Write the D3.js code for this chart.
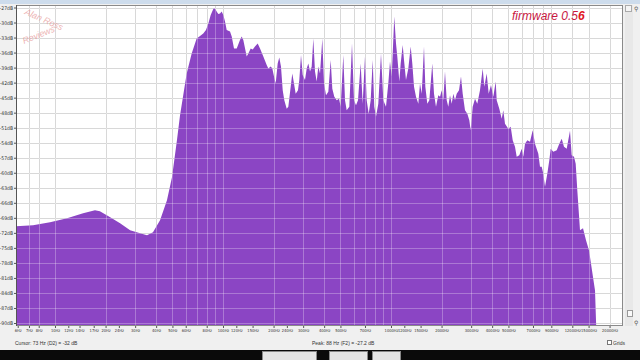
<!DOCTYPE html>
<html><head><meta charset="utf-8">
<script src="https://cdn.jsdelivr.net/npm/d3@7/dist/d3.min.js"></script>
<style>
body{margin:0;background:#f0f0f0;}
svg{display:block;font-family:"Liberation Sans",Arial,sans-serif;}
.tk text{font-family:"Liberation Sans Narrow","DejaVu Sans Condensed",sans-serif;}
</style>
</head><body>
<svg id="c" width="640" height="360"></svg>
<script>
// ---- data ----
const freqHz = [5.86, 7.40, 9.34, 11.8, 14.7, 17.3, 18.5, 21.3, 24.4, 28.0, 32.1, 35.3, 38.3, 42.2, 46.4, 49.7, 53.2, 55.5,
  60.8, 65.1, 69.7, 73.0, 76.3, 79.2, 81.8, 84.5, 87.8, 89.6, 91.7, 93.8, 96.0, 98.2, 100.4, 102.8, 105.2,
  110.1, 112.7, 116.3, 120.7, 126.2, 129.2, 132.1, 138.4, 141.5, 146.2, 150.3, 155.0, 160.9, 166.1, 173.8, 182.0, 186.1, 192.3, 196.6, 201.2,
  205.9, 211.6, 216.3, 221.4, 226.7, 231.7, 239.5, 244.8, 252.9, 258.5, 264.6, 270.8, 279.5, 284.6, 291.3, 298.2, 307.7, 315.0, 322.0, 329.6,
  337.3, 344.8, 352.9, 361.2, 369.3, 378.0, 390.1, 399.3, 410.4, 423.6, 437.7, 447.4, 459.8, 475.2, 490.4, 501.9, 520.1, 532.4, 544.9, 564.7,
  586.0, 602.3, 619.0, 636.2, 659.9, 678.3, 700.1, 716.7, 736.6, 757.1, 778.2, 795.4, 814.2, 840.3, 872.0, 900.0, 933.7, 963.6, 986.3, 1010, 1046,
  1071, 1090, 1121, 1142, 1174, 1195, 1228, 1268, 1310, 1339, 1371, 1409, 1454, 1488, 1523, 1572, 1601, 1645, 1691, 1761,
  1803, 1853, 1912, 1958, 2004, 2048, 2096, 2146, 2193, 2245, 2298, 2349, 2404, 2461, 2540, 2610, 2672, 2757, 2846, 2925,
  2981, 3064, 3162, 3264, 3386, 3514, 3593, 3712, 3815, 3937, 4064, 4200, 4258, 4412, 4559, 4661, 4771, 4991, 5158, 5302,
  5471, 5600, 5804, 5998, 6131, 6275, 6476, 6721, 6974, 7197, 7531, 7708, 7889, 8063, 8254, 8519, 8755, 8924, 9249, 9690,
  10041, 10377, 10710, 11111, 11627, 11900, 12283, 12572, 12850, 13335, 13896, 14479, 15088, 15722, 16383, 16700];
const levelDb = [-70.7, -70.5, -69.9, -69.1, -68.1, -67.5, -67.7, -68.9, -70.1, -71.5, -72.1, -72.5, -71.9, -69.5, -65.5, -60.9, -53.5, -48.5,
  -40.2, -36.2, -33.2, -32.7, -32.2, -31.5, -30.2, -28.5, -27.2, -27.2, -27.8, -28.3, -28.2, -27.8, -28.5, -29.8, -31.5,
  -31.8, -32.8, -35.2, -35.2, -33.5, -32.8, -33.5, -36.8, -36.2, -35.2, -35.4, -34.8, -34.2, -35.2, -36.8, -38.5, -39.2, -38.8, -39.2, -40.8,
  -42.2, -38.2, -37.0, -38.8, -43.5, -45.5, -47.2, -46.8, -42.8, -40.2, -42.2, -44.2, -43.5, -41.5, -36.5, -40.5, -41.5, -39.2, -38.2, -39.8,
  -38.8, -33.2, -39.8, -41.8, -38.8, -40.2, -33.2, -42.2, -44.5, -43.8, -37.5, -43.2, -44.8, -45.5, -45.2, -46.8, -36.5, -45.5, -47.5, -46.8,
  -34.2, -45.5, -46.5, -45.5, -38.2, -46.2, -36.8, -45.5, -48.2, -45.5, -37.5, -46.8, -48.8, -46.2, -36.2, -45.5, -46.8, -42.2, -37.8, -40.8, -28.8,
  -34.2, -36.8, -41.8, -38.2, -34.5, -37.5, -41.5, -39.2, -34.8, -38.2, -42.8, -44.8, -46.2, -42.2, -44.2, -34.8, -42.8, -46.2, -45.5, -38.2,
  -44.2, -46.8, -44.5, -44.8, -43.5, -45.5, -39.8, -45.5, -46.8, -44.5, -46.2, -44.2, -45.5, -44.2, -43.5, -40.8, -44.2, -47.5, -48.2, -49.5,
  -51.5, -46.8, -45.2, -46.2, -43.5, -39.2, -42.8, -40.2, -44.2, -42.5, -44.8, -41.8, -45.5, -47.2, -49.2, -47.5, -50.2, -51.2, -50.8, -53.5,
  -54.8, -56.8, -56.5, -55.2, -56.8, -54.2, -53.5, -53.8, -51.5, -54.2, -56.2, -58.8, -58.8, -60.2, -62.8, -60.2, -57.5, -55.2, -55.8, -55.5,
  -54.2, -53.2, -54.8, -55.2, -51.6, -56.5, -56.8, -58.2, -63.5, -71.5, -71.1, -73.5, -75.5, -79.5, -83.5, -92];
const tickFreqs = [6, 7, 8, 10, 12, 14, 17, 20, 24, 30, 40, 50, 60, 80, 100, 120, 150, 200, 240, 300, 400, 500, 700,
  1000, 1200, 1500, 2000, 3000, 4000, 5000, 7000, 9000, 12000, 15000, 20000];
const gridFreqs = [7, 8, 10, 20, 30, 40, 50, 60, 70, 80, 90, 100, 200, 300, 400, 500, 600, 700, 800, 900,
  1000, 2000, 3000, 4000, 5000, 6000, 7000, 8000, 9000, 12000, 15000, 20000];
const dbTicks = [-27, -30, -33, -36, -39, -42, -45, -48, -51, -54, -57, -60, -63, -66, -69, -72, -75, -78, -81, -84, -87, -90];
const cursorText = "Cursor: 73 Hz (D2) = -32 dB";
const peakText = "Peak: 88 Hz (F2) = -27.2 dB";
const firmwareText = "firmware 0.5";
const firmwareLast = "6";

// ---- drawing ----
const svg = d3.select("#c");
const L = 16, R = 623, T = 5, B = 326;
const x = d3.scaleLog().domain([5.86, 24040]).range([L, R]);
const y = d3.scaleLinear().domain([-90, -27]).range([323, 7.5]);
const pts = freqHz.map((f, i) => [f, levelDb[i]]);

svg.append("rect").attr("width", 640).attr("height", 360).attr("fill", "#f0f0f0");
svg.append("rect").attr("width", 640).attr("height", 4).attr("fill", "#cddcec");

svg.append("defs").append("clipPath").attr("id", "pc")
  .append("rect").attr("x", L).attr("y", T).attr("width", R - L).attr("height", B - T);

svg.append("rect").attr("x", L).attr("y", T).attr("width", R - L).attr("height", B - T).attr("fill", "#ffffff");

function grid(g, color, op) {
  g.selectAll(".h").data(dbTicks).join("line")
    .attr("x1", L).attr("x2", R).attr("y1", d => Math.round(y(d)) + 0.5).attr("y2", d => Math.round(y(d)) + 0.5)
    .attr("stroke", color).attr("stroke-opacity", op);
  g.selectAll(".v").data(gridFreqs).join("line")
    .attr("y1", T).attr("y2", B).attr("x1", d => Math.round(x(d)) + 0.5).attr("x2", d => Math.round(x(d)) + 0.5)
    .attr("stroke", color).attr("stroke-opacity", op);
}
const gBack = svg.append("g").attr("clip-path", "url(#pc)");
gBack.append("g").call(grid, "#c9c9c9", 1);

const area = d3.area().x(d => x(d[0])).y0(B + 2).y1(d => y(d[1])).curve(d3.curveLinear);
gBack.append("path").datum(pts).attr("d", area).attr("fill", "#8b45c4");
const gFront = svg.append("g").attr("clip-path", "url(#pc)");
gFront.append("g").call(grid, "#ffffff", 0.28);

svg.append("rect").attr("x", L + 0.5).attr("y", T + 0.5).attr("width", R - L - 1).attr("height", B - T - 1)
  .attr("fill", "none").attr("stroke", "#8a8a8a");
svg.append("line").attr("x1", L + 0.5).attr("x2", L + 0.5).attr("y1", T).attr("y2", B).attr("stroke", "#555");

// axes
const yAxis = d3.axisLeft(y).tickValues(dbTicks).tickFormat(d => d + "dB").tickSize(2).tickPadding(1);
const gy = svg.append("g").attr("class", "tk").attr("transform", `translate(${L},0)`).call(yAxis);
gy.select(".domain").remove();
gy.selectAll("text").attr("font-size", 5).attr("fill", "#333");
gy.selectAll("line").attr("stroke", "#555");

const xAxis = d3.axisBottom(x).tickValues(tickFreqs).tickFormat(d => d + "Hz").tickSize(2).tickPadding(1);
const gx = svg.append("g").attr("class", "tk").attr("transform", `translate(0,${B})`).call(xAxis);
gx.select(".domain").remove();
gx.selectAll("text").attr("font-size", 4).attr("fill", "#333");
gx.selectAll("line").attr("stroke", "#555");

// watermark
svg.append("text").attr("transform", "translate(24,14) rotate(24)")
  .attr("font-size", 9).attr("font-style", "italic").attr("fill", "#e79a9a").attr("fill-opacity", 0.75)
  .text("Alan Ross");
svg.append("text").attr("transform", "translate(24,44) rotate(-22)")
  .attr("font-size", 9).attr("font-style", "italic").attr("fill", "#e79a9a").attr("fill-opacity", 0.75)
  .text("Reviews");

// firmware label
const ft = svg.append("text").attr("x", 512).attr("y", 20)
  .attr("font-size", 12).attr("font-style", "italic").attr("fill", "#c8173f");
ft.append("tspan").text(firmwareText);
ft.append("tspan").attr("fill", "#e0141e").attr("font-weight", "bold").text(firmwareLast);

// right side scrollbar bits
svg.append("rect").attr("x", 625).attr("y", 5).attr("width", 8).attr("height", 321).attr("fill", "#e8e8e8");
svg.append("rect").attr("x", 625.5).attr("y", 5.5).attr("width", 6).attr("height", 6).attr("fill", "#f5f5f5").attr("stroke", "#aaa");
svg.append("rect").attr("x", 627.5).attr("y", 310.5).attr("width", 5).attr("height", 6).attr("fill", "#fafafa").attr("stroke", "#999");
svg.append("text").attr("x", 634).attr("y", 11).attr("font-size", 6).attr("fill", "#555").text("⚲");
svg.append("text").attr("x", 634).attr("y", 325).attr("font-size", 6).attr("fill", "#555").text("⚲");

// status bar
svg.append("text").attr("x", 15).attr("y", 345).attr("font-size", 5).attr("fill", "#333").text(cursorText);
svg.append("text").attr("x", 312).attr("y", 345).attr("font-size", 5).attr("fill", "#333").text(peakText);
svg.append("rect").attr("x", 607.5).attr("y", 340.5).attr("width", 4).attr("height", 4).attr("fill", "#fff").attr("stroke", "#777");
svg.append("text").attr("x", 613).attr("y", 345).attr("font-size", 5).attr("fill", "#333").text("Grids");

// bottom black band with cut-off buttons
svg.append("rect").attr("x", 0).attr("y", 350).attr("width", 640).attr("height", 10).attr("fill", "#0a0a0a");
[[262, 316], [329, 367], [372, 400]].forEach(([a, b]) => {
  svg.append("rect").attr("x", a + 0.5).attr("y", 351.5).attr("width", b - a).attr("height", 10)
    .attr("fill", "#e4e4e4").attr("stroke", "#888");
});
</script>
</body></html>
